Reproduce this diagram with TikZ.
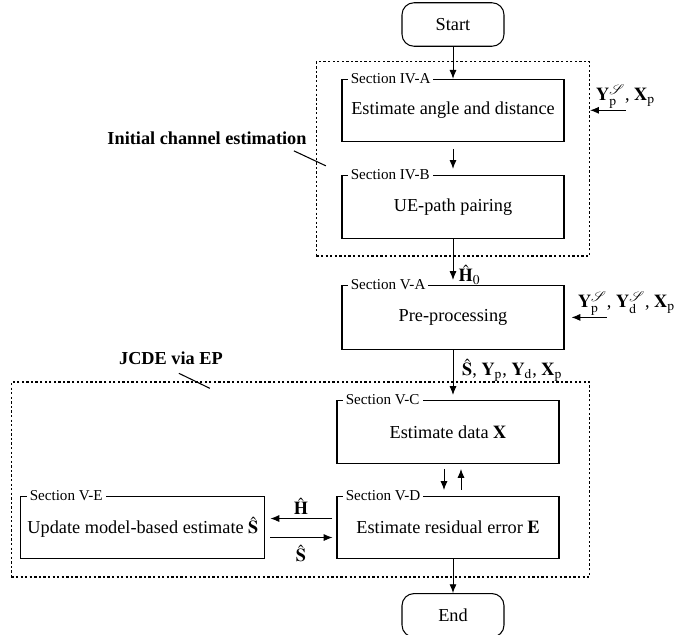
\documentclass[tikz,border=0pt]{standalone}
\usepackage{amsmath}
\usepackage{mathptmx}
\usepackage{mathrsfs}
\usepackage{fontspec}
\setmainfont{Liberation Serif}
\usepackage{tikz}
\usetikzlibrary{arrows.meta, positioning, calc, fit}

\begin{document}
\begin{tikzpicture}[
    node distance=0.64cm and 1.42cm,
    block/.style={rectangle, draw, line width=0.6pt, minimum height=1.26cm, minimum width=4.44cm, align=center, font=\fontsize{10.4}{12.5}\selectfont},
    term/.style={rectangle, draw, line width=0.6pt, rounded corners=0.24cm, minimum height=0.87cm, minimum width=2.04cm, font=\fontsize{10.4}{12.5}\selectfont},
    sec/.style={anchor=west, fill=white, inner xsep=1.7pt, inner ysep=0.5pt, font=\fontsize{8.6}{10}\selectfont},
    group/.style={draw, line width=0.7pt, dash pattern=on 1.3pt off 1.3pt},
    grouplabel/.style={inner sep=0pt, font=\fontsize{10.4}{12.5}\selectfont\bfseries},
    arrow/.style={-{Latex[length=5pt, width=4pt]}, line width=0.5pt},
    lbl/.style={font=\fontsize{10.4}{12.5}\selectfont}
]
    \useasboundingbox (0,0) rectangle (13.88,-12.7);

    \node[term] (start) at (9.06,-0.49) {Start};
    \node[block, minimum height=1.24cm, below=of start] (iva) {Estimate angle and distance};
    \node[block, below=0.66cm of iva] (ivb) {UE-path pairing};
    \node[block, minimum height=1.28cm, below=0.92cm of ivb] (pre) {Pre-processing};
    \node[block, below=1.0cm of pre, xshift=-0.1cm] (vc) {Estimate data $\mathbf{X}$};
    \node[block, minimum height=1.24cm, below=of vc] (vd) {Estimate residual error $\mathbf{E}$};
    \node[block, minimum height=1.24cm, minimum width=4.88cm, left=of vd] (ve) {Update model-based estimate $\hat{\mathbf{S}}$};
    \node[term, below=0.68cm of vd, xshift=0.1cm] (end) {End};

    % section tabs
    \node[sec] (seciva) at ([xshift=0.12cm]iva.north west) {Section IV-A};
    \node[sec] (secivb) at ([xshift=0.12cm]ivb.north west) {Section IV-B};
    \node[sec] (secpre) at ([xshift=0.12cm]pre.north west) {Section V-A};
    \node[sec] (secvc) at ([xshift=0.12cm]vc.north west) {Section V-C};
    \node[sec] (secvd) at ([xshift=0.12cm]vd.north west) {Section V-D};
    \node[sec] (secve) at ([xshift=0.12cm]ve.north west) {Section V-E};

    % dotted groups
    \node[group, fit=(iva)(ivb), inner xsep=0.5cm, inner ysep=0.34cm] (ice) {};
    \coordinate (jr) at ([xshift=0.42cm]vd.east);
    \node[group, fit=(ve)(vc)(vd)(jr), inner xsep=0.18cm, inner ysep=0.36cm] (jcde) {};

    \node[grouplabel, anchor=east] (icelbl) at ([xshift=-0.18cm, yshift=0.42cm]ice.west) {Initial channel estimation};
    \draw[line width=0.6pt] ([shift={(-0.26,-0.26)}]icelbl.east) -- ([shift={(0.2,-0.14)}]ice.west);
    \node[grouplabel, anchor=west] (jcdelbl) at ([xshift=2.16cm, yshift=0.46cm]jcde.north west) {JCDE via EP};
    \draw[line width=0.6pt] ([shift={(0.16,-0.3)}]jcdelbl.center) -- ([shift={(3.98,-0.14)}]jcde.north west);

    % inputs
    \coordinate (in1) at ([xshift=1.22cm]iva.east);
    \coordinate (in2) at ([xshift=0.84cm]pre.east);
    \draw[arrow] (in1) -- (in1 -| ice.east);
    \node[lbl, above, inner sep=1pt] at (in1) {$\mathbf{Y}_{\mathrm{p}}^{\mathscr{S}}$, $\mathbf{X}_{\mathrm{p}}$};
    \draw[arrow, shorten >=0.14cm] (in2) -- (pre.east);
    \node[lbl, above, inner sep=1pt] at ([xshift=0.4cm]in2) {$\mathbf{Y}_{\mathrm{p}}^{\mathscr{S}}$, $\mathbf{Y}_{\mathrm{d}}^{\mathscr{S}}$, $\mathbf{X}_{\mathrm{p}}$};

    % main flow
    \draw[arrow] (start) -- (iva);
    \draw[arrow, shorten <=0.14cm, shorten >=0.12cm] (iva) -- (ivb);
    \draw[arrow, shorten >=0.1cm] (ivb) -- node[lbl, pos=0.78, right, inner sep=3pt]{$\hat{\mathbf{H}}_0$} (pre);
    \draw[arrow, shorten >=0.1cm] (pre.south) -- node[lbl, pos=0.4, right, inner sep=5pt]{$\hat{\mathbf{S}}$, $\mathbf{Y}_{\mathrm{p}}$, $\mathbf{Y}_{\mathrm{d}}$, $\mathbf{X}_{\mathrm{p}}$} (pre.south |- vc.north);
    \draw[arrow, shorten <=0.1cm, shorten >=0.12cm] ([xshift=-0.08cm]vc.south) -- ([xshift=-0.08cm]vd.north);
    \draw[arrow, shorten <=0.12cm, shorten >=0.1cm] ([xshift=0.26cm]vd.north) -- ([xshift=0.26cm]vc.south);
    \draw[arrow, shorten <=0.08cm, shorten >=0.1cm] ([yshift=0.18cm]vd.west) -- node[lbl, above, inner sep=2pt]{$\hat{\mathbf{H}}$} ([yshift=0.18cm]ve.east);
    \draw[arrow, shorten <=0.1cm, shorten >=0.08cm] ([yshift=-0.2cm]ve.east) -- node[lbl, below, inner sep=4pt]{$\hat{\mathbf{S}}$} ([yshift=-0.2cm]vd.west);
    \draw[arrow] (vd.south -| end.north) -- (end.north);
\end{tikzpicture}
\end{document}
